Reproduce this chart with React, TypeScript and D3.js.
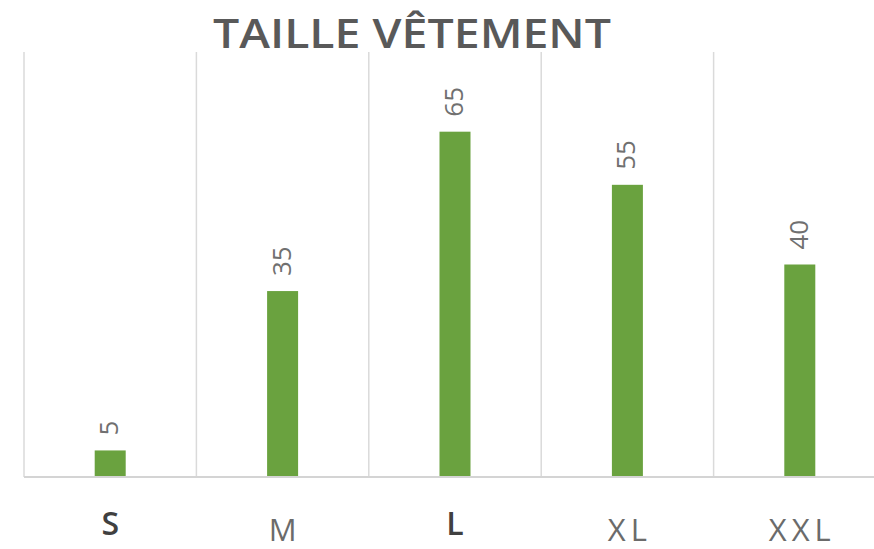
import React from "react";
import * as d3 from "d3";

const categories = ["S", "M", "L", "XL", "XXL"];
const values = [5, 35, 65, 55, 40];
const boldCategories = ["S", "L"];
const title = "TAILLE VÊTEMENT";

const W = 874;
const H = 549;

export default function App() {
  const x = d3.scaleBand<string>().domain(categories).range([24, 886]).padding(0);
  const y = d3.scaleLinear().domain([0, 80]).range([477, 52]);
  const barW = 31;
  const font = "'Open Sans', 'DejaVu Sans', sans-serif";

  return (
    <svg
      width={W}
      height={H}
      style={{ position: "absolute", left: 0, top: 0, background: "#fff" }}
    >
      <text
        x={412}
        y={48}
        textAnchor="middle"
        fontFamily={font}
        fontWeight={600}
        fontSize={40}
        fill="#595959"
        textLength={398}
        lengthAdjust="spacingAndGlyphs"
      >
        {title}
      </text>
      {categories.map((c) => (
        <line
          key={"g" + c}
          x1={x(c)!}
          x2={x(c)!}
          y1={y(80)}
          y2={y(0)}
          stroke="#dadada"
          strokeWidth={1.5}
        />
      ))}
      {categories.map((c, i) => {
        const cx = x(c)! + x.bandwidth() / 2;
        return (
          <g key={"b" + c}>
            <rect
              x={cx - barW / 2}
              y={y(values[i])}
              width={barW}
              height={y(0) - y(values[i])}
              fill="#6aa23f"
            />
            <text
              transform={`translate(${cx - 2},${y(values[i]) - 15}) rotate(-90)`}
              textAnchor="start"
              dominantBaseline="central"
              fontFamily={font}
              fontSize={26}
              fill="#707070"
            >
              {values[i]}
            </text>
          </g>
        );
      })}
      <line x1={24} x2={886} y1={y(0)} y2={y(0)} stroke="#d4d4d4" strokeWidth={2} />
      {categories.map((c) => {
        const cx = x(c)! + x.bandwidth() / 2;
        const bold = boldCategories.includes(c);
        const ls = bold ? 0 : 5;
        return (
          <text
            key={"l" + c}
            x={cx + ls / 2}
            y={bold ? 535 : 541}
            textAnchor="middle"
            fontFamily={font}
            fontSize={bold ? 32 : 31}
            fontWeight={bold ? 600 : 400}
            letterSpacing={ls}
            fill={bold ? "#404040" : "#6b6b6b"}
          >
            {c}
          </text>
        );
      })}
    </svg>
  );
}
